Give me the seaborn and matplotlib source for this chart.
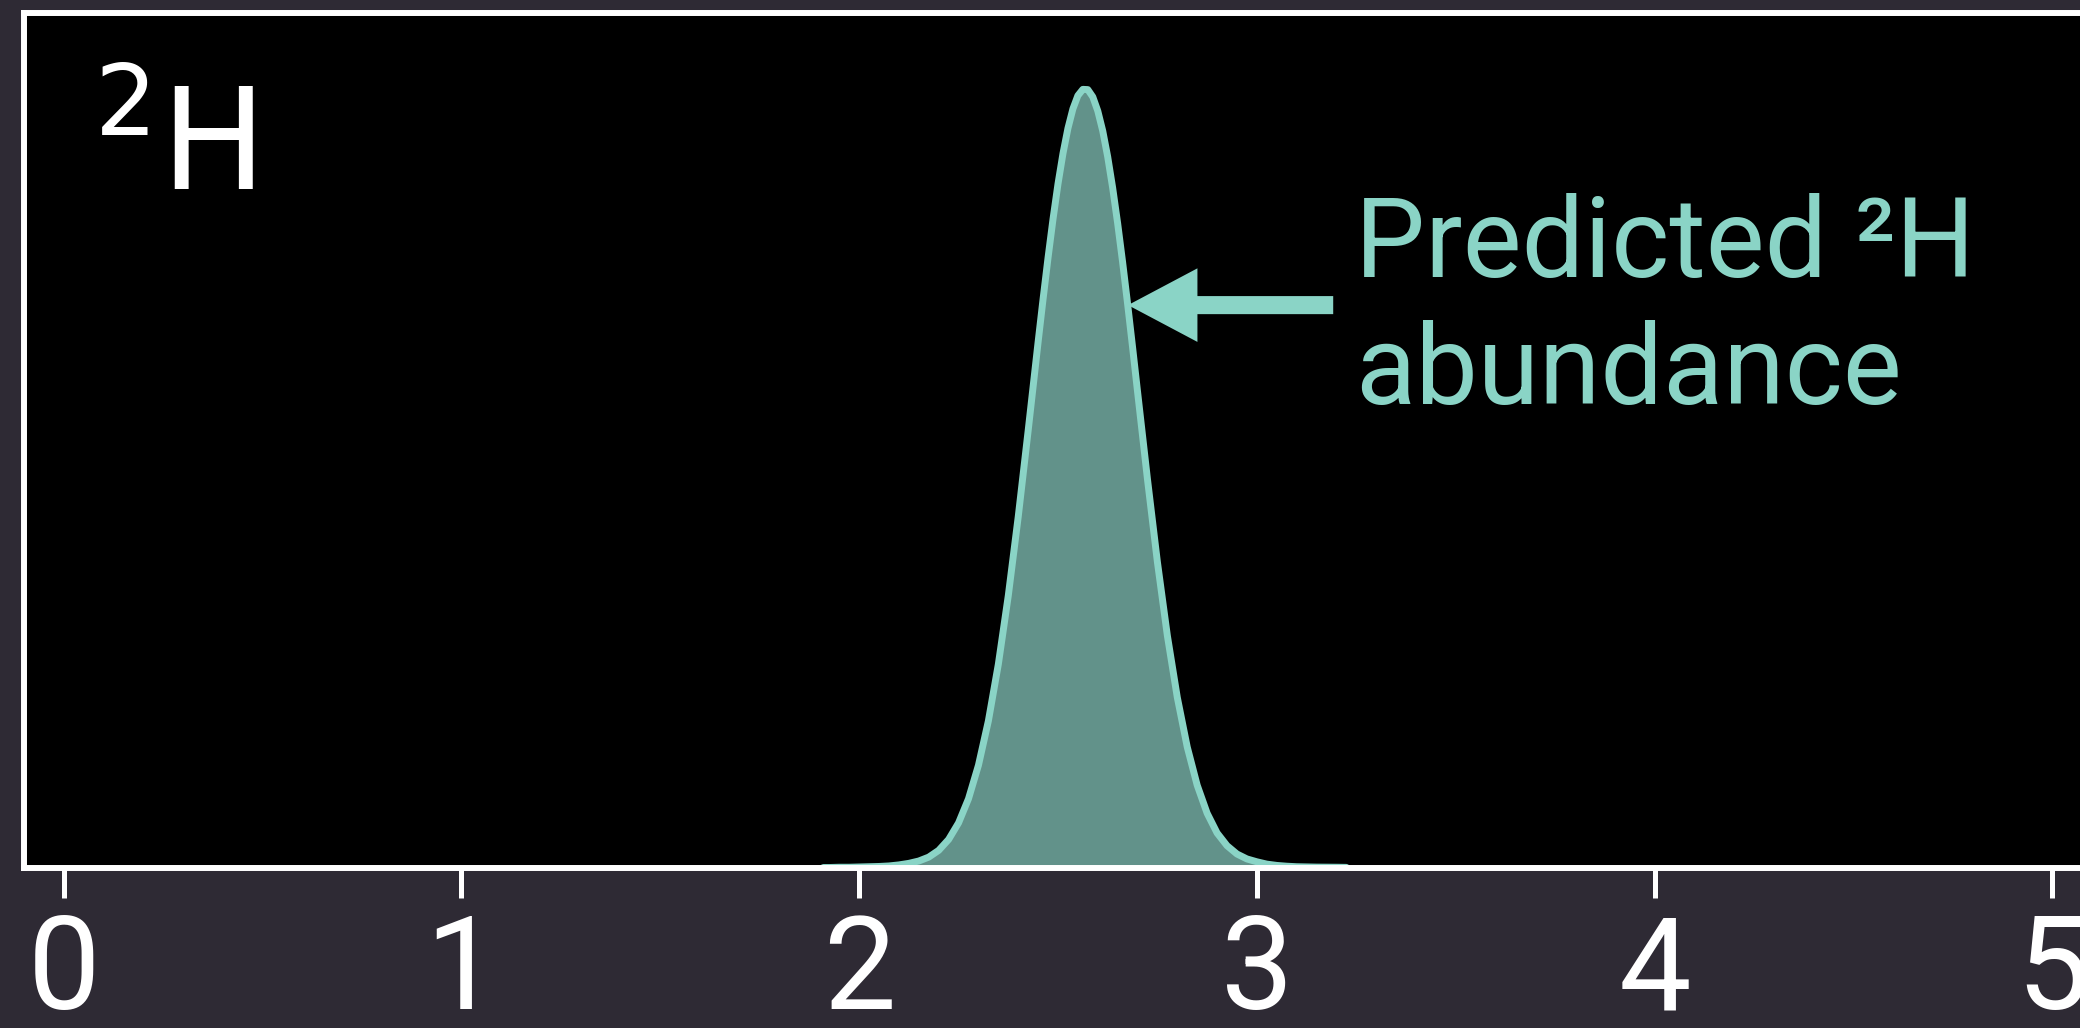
import matplotlib
matplotlib.use("Agg")
import matplotlib.pyplot as plt
import seaborn as sns
import pandas as pd

# Predicted 2H abundance density curve
x_vals = [1.910, 1.925, 1.950, 1.975, 2.000, 2.025, 2.050, 2.075, 2.100, 2.125,
          2.150, 2.175, 2.200, 2.225, 2.250, 2.275, 2.300, 2.325, 2.350, 2.375,
          2.400, 2.425, 2.450, 2.4625, 2.475, 2.4875, 2.500, 2.5125, 2.525, 2.5375,
          2.550, 2.5625, 2.575, 2.5875, 2.600, 2.6125, 2.625, 2.6375, 2.650, 2.6625,
          2.675, 2.6875, 2.700, 2.725, 2.750, 2.775, 2.800, 2.825, 2.850, 2.875,
          2.900, 2.925, 2.950, 2.975, 3.000, 3.025, 3.050, 3.075, 3.100, 3.150,
          3.200, 3.225]
density = [0.000, 0.000, 0.001, 0.001, 0.002, 0.003, 0.004, 0.006, 0.010, 0.016,
           0.025, 0.040, 0.066, 0.108, 0.172, 0.265, 0.394, 0.565, 0.783, 1.047,
           1.351, 1.683, 2.024, 2.190, 2.349, 2.498, 2.633, 2.750, 2.847, 2.922,
           2.973, 2.997, 2.996, 2.968, 2.914, 2.837, 2.737, 2.617, 2.481, 2.331,
           2.171, 2.004, 1.833, 1.495, 1.176, 0.893, 0.655, 0.464, 0.317, 0.209,
           0.133, 0.084, 0.052, 0.033, 0.022, 0.013, 0.008, 0.005, 0.003, 0.0015,
           0.001, 0.0005]
x_ticks = [0, 1, 2, 3, 4, 5]
x_limits = (-0.1, 5.1)
y_limits = (0.0, 3.293)

panel_label = r"$^{2}$H"
annotation = "Predicted \u00b2H\nabundance"
arrow_tip = (2.676, 2.166)
arrow_tail = (3.192, 2.166)
text_anchor = (3.247, 1.786)

BG = "#2e2a34"
TEAL = "#8ad4c6"
FILL = "#62928a"

sns.set_style("dark")
plt.rcParams["font.family"] = ["Roboto", "DejaVu Sans"]
plt.rcParams["mathtext.fontset"] = "dejavusans"

fig = plt.figure(figsize=(20.8, 10.28), dpi=100, facecolor=BG)
ax = fig.add_axes([24 / 2080, (1028 - 867.5) / 1028, (2092 - 24) / 2080, 855 / 1028])
ax.set_facecolor("black")

df = pd.DataFrame({"x": x_vals, "density": density})
ax.fill_between(df["x"], df["density"], 0, color=FILL, linewidth=0, zorder=2)
sns.lineplot(data=df, x="x", y="density", ax=ax, color=TEAL, linewidth=5,
             zorder=3, legend=False, solid_joinstyle="round",
             solid_capstyle="round")

ax.set_xlim(*x_limits)
ax.set_ylim(*y_limits)
ax.set_xticks(x_ticks)
ax.set_xticklabels([str(t) for t in x_ticks])
ax.set_yticks([])
ax.set_xlabel("")
ax.set_ylabel("")
ax.grid(False)

for side, sp in ax.spines.items():
    sp.set_visible(True)
    sp.set_color("white")
    sp.set_linewidth(4.3)
    sp.set_zorder(5)

ax.tick_params(axis="x", which="major", direction="out", length=21.6, width=3.6,
               color="white", labelcolor="white", labelsize=93, pad=10,
               bottom=True)

ax.text(0.0334, 0.7924, panel_label, transform=ax.transAxes, color="white",
        fontsize=101, family="DejaVu Sans", ha="left", va="baseline")

ax.annotate("", xy=arrow_tip, xytext=arrow_tail,
            arrowprops=dict(width=13, headwidth=53, headlength=50,
                            color=TEAL, shrink=0.0, linewidth=0))
ax.text(text_anchor[0], text_anchor[1], annotation, color=TEAL, fontsize=80,
        ha="left", va="baseline", linespacing=1.24)

fig.savefig("out.png", dpi=100, facecolor=BG)
